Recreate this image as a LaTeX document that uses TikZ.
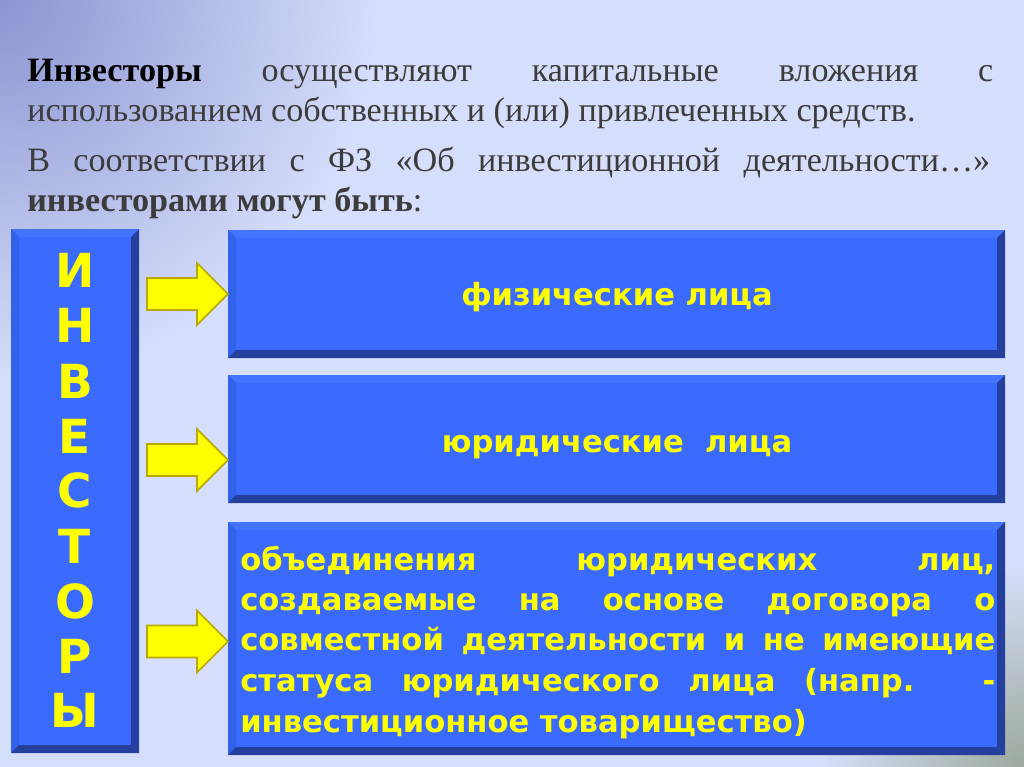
\documentclass[tikz,border=0pt]{standalone}
\usepackage{fontspec}
\setmainfont{Liberation Serif}
\newfontfamily\boxfont{DejaVu Sans}
\usetikzlibrary{fit,calc}
\definecolor{bgc}{HTML}{D5DEFA}
\definecolor{corner}{HTML}{8C95D2}
\definecolor{cornerb}{HTML}{9BAA9C}
\definecolor{face}{HTML}{3B6BFE}
\definecolor{bevdark}{HTML}{24409C}
\definecolor{bevleft}{HTML}{3262EA}
\definecolor{bevtop}{HTML}{4374FF}
\definecolor{txtgray}{HTML}{3C3C3C}
\definecolor{yel}{HTML}{FFFF00}
\definecolor{yeledge}{HTML}{B8A800}
\tikzset{
  panel/.style={inner sep=0pt, outer sep=0pt, fill=face},
  boxtxt/.style={text=yel, font=\boxfont\bfseries\fontsize{21.5}{26}\selectfont, inner sep=0pt, anchor=base},
  lettertxt/.style={text=yel, font=\boxfont\bfseries\fontsize{33}{36}\selectfont, inner sep=0pt, anchor=base},
  toptxt/.style={text=txtgray, font=\fontsize{24}{28}\selectfont, inner sep=0pt, anchor=base west},
  arrowfill/.style={fill=yel, draw=yeledge, line width=1.2pt, line join=miter},
  blockarrow/.pic={\path[arrowfill] (-81,-16) -- (-31,-16) -- (-31,-31) -- (0,0) -- (-31,31) -- (-31,16) -- (-81,16) -- cycle;}
}
\newcommand\bevelpanel[2]{%
  \fill[bevtop] (#1.north west) -- (#1.north east) -- ([shift={(-#2,#2)}]#1.north east) -- ([shift={(#2,#2)}]#1.north west) -- cycle;
  \fill[bevleft] (#1.north west) -- ([shift={(#2,#2)}]#1.north west) -- ([shift={(#2,-#2)}]#1.south west) -- (#1.south west) -- cycle;
  \fill[bevdark] (#1.north east) -- (#1.south east) -- ([shift={(-#2,-#2)}]#1.south east) -- ([shift={(-#2,#2)}]#1.north east) -- cycle;
  \fill[bevdark] (#1.south west) -- (#1.south east) -- ([shift={(-#2,-#2)}]#1.south east) -- ([shift={(#2,-#2)}]#1.south west) -- cycle;
}
\begin{document}
\begin{tikzpicture}[x=0.703125pt,y=-0.703125pt]
\useasboundingbox (0,0) rectangle (1024,767);
% background
\fill[bgc] (0,0) rectangle (1024,767);
\begin{scope}
  \clip (0,0) rectangle (1024,767);
  \shade[inner color=corner, outer color=bgc] (0,0) circle (380);
  \shade[inner color=cornerb, outer color=bgc] (1024,767) circle (200);
\end{scope}
% top text
\node[toptxt] (l1) at (27,82) {\makebox[966\dimexpr0.703125pt\relax][s]{\textcolor{black}{\bfseries Инвесторы} осуществляют капитальные вложения с}};
\node[toptxt] (l2) at (27,122) {использованием собственных и (или) привлеченных средств.};
\node[toptxt] (l3) at (27,172) {\makebox[963\dimexpr0.703125pt\relax][s]{В соответствии с ФЗ «Об инвестиционной деятельности…»}};
\node[toptxt] (l4) at (27,212) {\textbf{инвесторами могут быть}:};
% panels
\node[panel, fit={(11,229) (139,753)}] (inv) {};
\node[panel, fit={(228,230) (1005,358)}] (b1) {};
\node[panel, fit={(228,375) (1005,503)}] (b2) {};
\node[panel, fit={(228,522) (1005,755)}] (b3) {};
\bevelpanel{inv}{8}
\bevelpanel{b1}{8}
\bevelpanel{b2}{8}
\bevelpanel{b3}{8}
% vertical word
\foreach \ch/\yy [count=\i] in {И/287,Н/342,В/398,Е/453,С/507,Т/563,О/618,Р/673,Ы/727}{
  \node[lettertxt] (c\i) at (75,\yy) {\ch};
}
% box texts
\node[boxtxt] (t1) at (617,305) {физические лица};
\node[boxtxt] (t2) at (617,452) {юридические\ \ лица};
\node[boxtxt, anchor=base west] (t3a) at (240,570) {\makebox[755\dimexpr0.703125pt\relax][s]{объединения юридических лиц,}};
\node[boxtxt, anchor=base west] (t3b) at (240,610) {\makebox[755\dimexpr0.703125pt\relax][s]{создаваемые на основе договора о}};
\node[boxtxt, anchor=base west] (t3c) at (240,650) {\makebox[755\dimexpr0.703125pt\relax][s]{совместной деятельности и не имеющие}};
\node[boxtxt, anchor=base west] (t3d) at (240,691) {\makebox[755\dimexpr0.703125pt\relax][s]{статуса юридического лица (напр. -}};
\node[boxtxt, anchor=base west] (t3e) at (240,732) {инвестиционное товарищество)};
% arrows
\pic at (b1.west) {blockarrow};
\pic at ([shift={(0,21)}]b2.west) {blockarrow};
\pic at ([shift={(0,3)}]b3.west) {blockarrow};
\end{tikzpicture}
\end{document}
